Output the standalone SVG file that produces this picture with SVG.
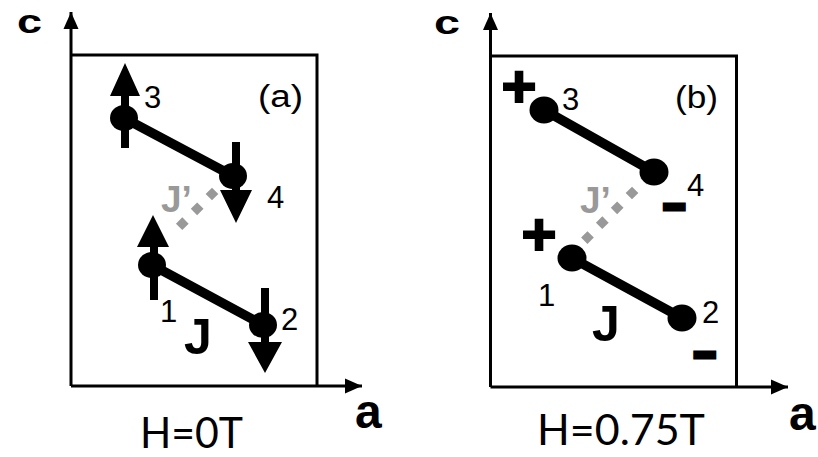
<svg xmlns="http://www.w3.org/2000/svg" width="818" height="457" viewBox="0 0 818 457">
  <style>
    .frame { fill: none; stroke: #000; stroke-width: 3; }
    .axis { fill: none; stroke: #000; stroke-width: 3; marker-end: url(#head); }
    .bond { stroke: #000; stroke-width: 9.5; stroke-linecap: round; }
    .jp { stroke: #999; stroke-width: 9; stroke-dasharray: 9 12; fill: none; }
    .site { fill: #000; }
    .spin { fill: #000; }
    .ax { font-family: "Liberation Sans", Arial, sans-serif; font-weight: bold; fill: #000; }
    .num { font-family: "Liberation Sans", Arial, sans-serif; font-size: 31px; fill: #000; }
    .jl { font-family: "Liberation Sans", Arial, sans-serif; font-weight: bold; font-size: 50px; fill: #000; }
    .jpl { font-family: "Liberation Sans", Arial, sans-serif; font-weight: bold; font-size: 37px; fill: #999; }
    .chg { font-family: "Liberation Sans", Arial, sans-serif; font-weight: bold; fill: #000; stroke: #000; text-anchor: middle; }
    .plus { font-size: 60px; stroke-width: 2; }
    .minus { font-size: 36px; stroke-width: 5; }
    .field { font-family: Lato, "Noto Sans", sans-serif; font-size: 42px; fill: #000; }
  </style>
  <defs>
    <marker id="head" markerUnits="userSpaceOnUse" markerWidth="18" markerHeight="16" refX="17" refY="8" orient="auto">
      <path d="M0,0.5 L17,8 L0,15.5 z" fill="#000"/>
    </marker>
  </defs>

  <!-- panel (a): H = 0 T -->
  <g id="panel-a">
    <path class="frame" d="M71,55 H317 V386"/>
    <path class="axis" d="M71,386 V12"/>
    <path class="axis" d="M71,386 H362"/>
    <text class="ax" x="17" y="33" font-size="33" textLength="25" lengthAdjust="spacingAndGlyphs">c</text>
    <text class="ax" x="355" y="428" font-size="48">a</text>
    <text class="num" x="258" y="107" textLength="45" lengthAdjust="spacingAndGlyphs">(a)</text>
    <text class="field" x="140" y="447.5" textLength="103" lengthAdjust="spacingAndGlyphs">H=0T</text>
  </g>

  <g id="connectors-a">
    <line class="jp" x1="233" y1="173" x2="176" y2="230" stroke-dashoffset="16.8"/>
    <line class="bond" x1="124" y1="118" x2="233" y2="176"/>
    <line class="bond" x1="152" y1="265" x2="263" y2="325"/>
  </g>

  <g id="a-site3">
    <ellipse class="site" cx="124" cy="118" rx="14" ry="13"/>
    <path class="spin" d="M121,148 V96 H110 L125,63 L140,96 H129 V148 z"/>
    <text class="num" x="144" y="108">3</text>
  </g>
  <g id="a-site4">
    <ellipse class="site" cx="233" cy="176" rx="14" ry="13"/>
    <path class="spin" d="M232,142 V190 H220 L236,223 L252,190 H240 V142 z"/>
    <text class="num" x="267" y="208">4</text>
  </g>
  <g id="a-site1">
    <ellipse class="site" cx="152" cy="265" rx="14" ry="13"/>
    <path class="spin" d="M150,300 V247 H137 L153,215 L169,247 H158 V300 z"/>
    <text class="num" x="160" y="322">1</text>
  </g>
  <g id="a-site2">
    <ellipse class="site" cx="263" cy="325" rx="14" ry="13"/>
    <path class="spin" d="M261,288 V342 H248 L265,373 L282,342 H269 V288 z"/>
    <text class="num" x="281" y="330">2</text>
  </g>
  <g id="a-labels">
    <text class="jpl" x="161" y="212">J’</text>
    <text class="jl" x="184" y="354">J</text>
  </g>

  <!-- panel (b): H = 0.75 T -->
  <g id="panel-b">
    <path class="frame" d="M490.5,56 H736.5 V387"/>
    <path class="axis" d="M490.5,387 V13"/>
    <path class="axis" d="M490.5,387 H788"/>
    <text class="ax" x="434" y="33.5" font-size="34" textLength="26" lengthAdjust="spacingAndGlyphs">c</text>
    <text class="ax" x="789" y="430" font-size="48">a</text>
    <text class="num" x="675" y="108" textLength="43" lengthAdjust="spacingAndGlyphs">(b)</text>
    <text class="field" x="537" y="445" textLength="168" lengthAdjust="spacingAndGlyphs">H=0.75T</text>
  </g>

  <g id="connectors-b">
    <line class="jp" x1="654" y1="171" x2="572" y2="253" stroke-dashoffset="15.4"/>
    <line class="bond" x1="544" y1="110" x2="654" y2="172"/>
    <line class="bond" x1="572" y1="258" x2="682" y2="318"/>
  </g>

  <g id="b-site3">
    <ellipse class="site" cx="544" cy="110" rx="14.5" ry="13.5"/>
    <text class="chg plus" x="519" y="107">+</text>
    <text class="num" x="562" y="110">3</text>
  </g>
  <g id="b-site4">
    <ellipse class="site" cx="654" cy="172" rx="14.5" ry="13.5"/>
    <text class="chg minus" x="674" y="219">−</text>
    <text class="num" x="687" y="196">4</text>
  </g>
  <g id="b-site1">
    <ellipse class="site" cx="572" cy="258" rx="14.5" ry="13.5"/>
    <text class="chg plus" x="539" y="255">+</text>
    <text class="num" x="538" y="306">1</text>
  </g>
  <g id="b-site2">
    <ellipse class="site" cx="682" cy="318" rx="14.5" ry="13.5"/>
    <text class="chg minus" x="704.5" y="367">−</text>
    <text class="num" x="702" y="323">2</text>
  </g>
  <g id="b-labels">
    <text class="jpl" x="580" y="213">J’</text>
    <text class="jl" x="592" y="341">J</text>
  </g>
</svg>
